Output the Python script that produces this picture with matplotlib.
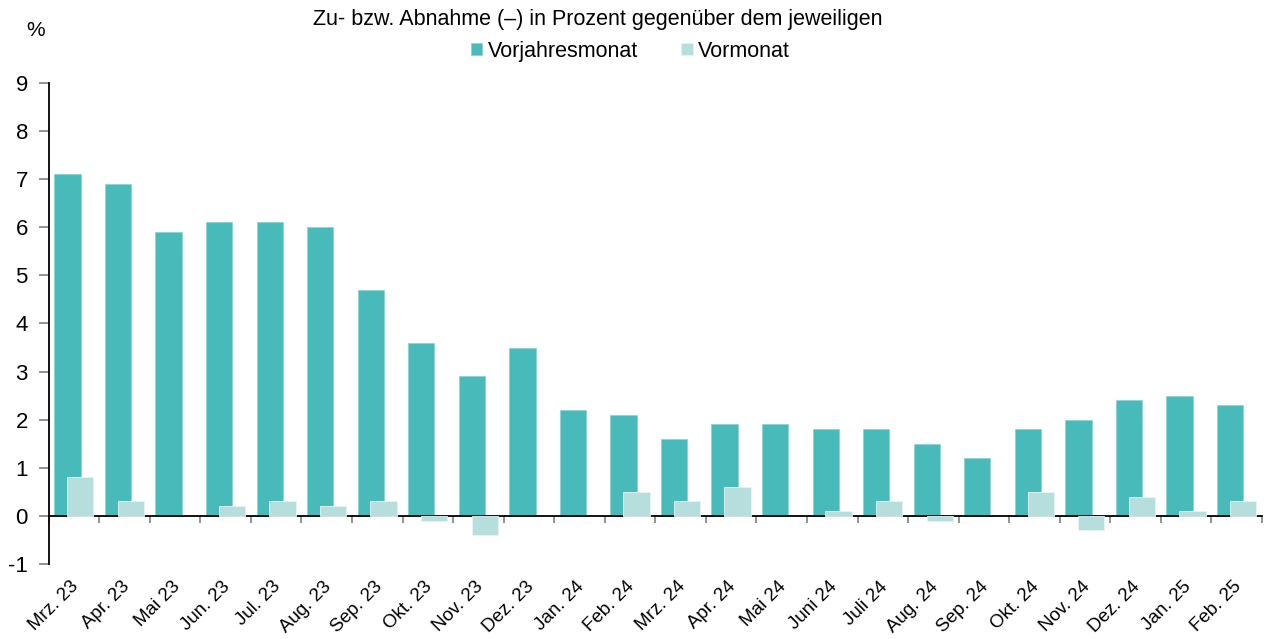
import numpy as np
import matplotlib
matplotlib.use("Agg")
import matplotlib.pyplot as plt

plt.rcParams['font.family'] = ['Liberation Sans', 'DejaVu Sans']
plt.rcParams['axes.unicode_minus'] = False

months = ["Mrz. 23", "Apr. 23", "Mai 23", "Jun. 23", "Jul. 23", "Aug. 23",
          "Sep. 23", "Okt. 23", "Nov. 23", "Dez. 23", "Jan. 24", "Feb. 24",
          "Mrz. 24", "Apr. 24", "Mai 24", "Juni 24", "Juli 24", "Aug. 24",
          "Sep. 24", "Okt. 24", "Nov. 24", "Dez. 24", "Jan. 25", "Feb. 25"]
vorjahr = [7.1, 6.9, 5.9, 6.1, 6.1, 6.0, 4.7, 3.6, 2.9, 3.5, 2.2, 2.1,
           1.6, 1.9, 1.9, 1.8, 1.8, 1.5, 1.2, 1.8, 2.0, 2.4, 2.5, 2.3]
vormonat = [0.8, 0.3, 0.0, 0.2, 0.3, 0.2, 0.3, -0.1, -0.4, 0.0, 0.0, 0.5,
            0.3, 0.6, 0.0, 0.1, 0.3, -0.1, 0.0, 0.5, -0.3, 0.4, 0.1, 0.3]

dark = "#48bab9"
light = "#b5dedd"

fig = plt.figure(figsize=(12.66, 6.39), dpi=100)
ax = fig.add_axes([0.0385, 0.1174, 0.9583, 0.7527])

x = np.arange(len(months))
b1 = ax.bar(x - 0.13, vorjahr, width=0.52, color=dark,
            edgecolor="#8fd3d2", linewidth=0.6, zorder=2, label="Vorjahresmonat")
# no outline for zero-height bars
lw2 = [0.6 if v != 0 else 0 for v in vormonat]
b2 = ax.bar(x + 0.125, vormonat, width=0.52, color=light,
            edgecolor="#e6f4f4", linewidth=lw2, zorder=3, label="Vormonat")

ax.set_xlim(-0.5, len(months) - 0.5)
ax.set_ylim(-1, 9)
ax.set_yticks(range(-1, 10))
ax.tick_params(axis='y', direction='out', length=7, width=1.2, color='#808080',
               labelsize=16, pad=8)

# zero line with boundary ticks
ax.spines['bottom'].set_position(('data', 0))
ax.spines['bottom'].set_linewidth(1.3)
ax.spines['left'].set_linewidth(1.3)
ax.spines['top'].set_visible(False)
ax.spines['right'].set_visible(False)
ax.set_xticks(np.arange(len(months) + 1) - 0.5)
ax.set_xticklabels([])
ax.tick_params(axis='x', direction='out', length=5, width=1.2, color='#808080')

for i, m in enumerate(months):
    ax.text(i + 0.04, -1.42, m, rotation=45, rotation_mode='anchor',
            ha='right', va='center', fontsize=13.5, clip_on=False)

fig.text(0.028, 0.953, "%", fontsize=15, ha='center', va='center')
fig.text(0.472, 0.970, "Zu- bzw. Abnahme (\u2013) in Prozent gegenüber dem jeweiligen",
         fontsize=15.5, ha='center', va='center')
fig.legend(handles=[b1, b2], loc='center', bbox_to_anchor=(0.498, 0.920),
           ncol=2, frameon=False, fontsize=15.5, handlelength=0.55,
           handleheight=0.55, handletextpad=0.25, columnspacing=2.0)

fig.savefig("out.png", dpi=100)
